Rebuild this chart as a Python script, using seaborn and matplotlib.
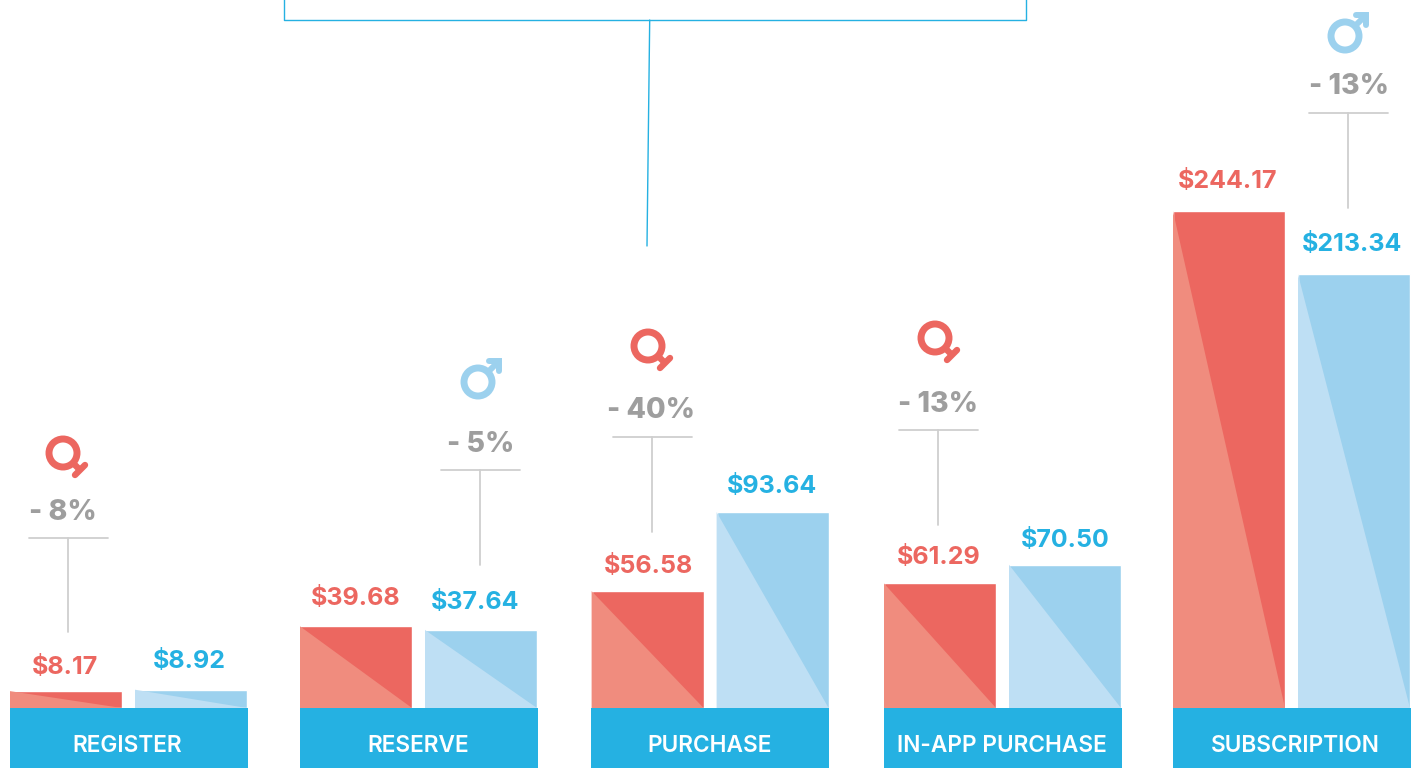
import matplotlib
matplotlib.use('Agg')
import matplotlib.pyplot as plt
from matplotlib.patches import Circle, Rectangle
import pandas as pd
import seaborn as sns

# data
categories = ['REGISTER', 'RESERVE', 'PURCHASE', 'IN-APP PURCHASE', 'SUBSCRIPTION']
female_spend = [8.17, 39.68, 56.58, 61.29, 244.17]
male_spend = [8.92, 37.64, 93.64, 70.50, 213.34]
# drawn bar heights on the common scale (the source bars do not quite follow their labels)
female_bar = [8.3, 40.2, 57.5, 61.3, 244.5]
male_bar = [9.0, 38.4, 96.4, 70.5, 213.4]
gaps = ['- 8%', '- 5%', '- 40%', '- 13%', '- 13%']
gap_gender = ['f', 'm', 'f', 'f', 'm']

# layout in pixels of the 1419x768 picture
W, H = 1419, 768
BASE_Y = 708
PX_PER_DOLLAR = 2.032
group_left = [10, 300, 591.6, 884, 1173]
band_left = [10, 300, 591, 884, 1173]
BAR_W = 112
BAR_STEP = 125
BAND_W = 238
female_lbl = [(-1, 665), (0, 596), (1, 564), (-1, 555), (-1, 179)]
male_lbl = [(-2, 659), (-6, 600), (-1, 484), (0, 538), (-2, 242)]
label_dx = [-2, -1, 0, -1, 3]
callout_x = [68, 480, 652, 938, 1348]
callout_top = [538, 470, 437, 430, 113]
callout_bottom = [632, 565, 532, 525, 208]
gap_text_x = [63, 481, 651, 938, 1349]
icon_xy = [(63, 453), (478, 382), (648, 346), (935, 338), (1345, 36)]

RED, RED_LIGHT = '#EC6760', '#F08C7E'
BLUE, BLUE_LIGHT = '#9CD1EE', '#BEDFF4'
BAND = '#25B1E2'
GREY = '#9E9E9E'
LINE_GREY = '#CFCFCF'
FONT = 'Inter'

sns.set_theme(style='white')
plt.rcParams['font.family'] = [FONT, 'DejaVu Sans']

rows = []
for i, cat in enumerate(categories):
    rows.append({'pos': group_left[i] + BAR_W / 2, 'spend': female_bar[i], 'gender': 'female'})
    rows.append({'pos': group_left[i] + BAR_STEP + BAR_W / 2, 'spend': male_bar[i], 'gender': 'male'})
df = pd.DataFrame(rows)

fig = plt.figure(figsize=(W / 100, H / 100), dpi=100, facecolor='white')
ax = fig.add_axes([0, 0, 1, 1])
sns.barplot(data=df, x='pos', y='spend', hue='gender', native_scale=True, dodge=False,
            width=BAR_W / BAR_STEP, palette={'female': RED, 'male': BLUE}, saturation=1,
            legend=False, errorbar=None, ax=ax)
ax.set_xlim(0, W)
ax.set_ylim(-(H - BASE_Y) / PX_PER_DOLLAR, BASE_Y / PX_PER_DOLLAR)
ax.axis('off')

# lighter triangle in the lower left corner of each bar
for bar in ax.patches:
    x0, w, h = bar.get_x(), bar.get_width(), bar.get_height()
    col = RED_LIGHT if bar.get_facecolor()[0] > 0.8 else BLUE_LIGHT
    ax.fill([x0, x0, x0 + w], [0, h, 0], color=col, lw=0, zorder=bar.get_zorder() + 0.1)

# overlay in pixel coordinates for the furniture
top = fig.add_axes([0, 0, 1, 1], facecolor='none')
top.set_xlim(0, W)
top.set_ylim(H, 0)
top.axis('off')


def draw_icon(cx, cy, kind):
    col = RED if kind == 'f' else BLUE
    top.add_patch(Circle((cx, cy), 14, fill=False, ec=col, lw=5))
    if kind == 'f':
        top.plot([cx + 10, cx + 18], [cy + 10, cy + 18], color=col, lw=4.6, solid_capstyle='butt')
        top.plot([cx + 12, cx + 22], [cy + 22, cy + 12], color=col, lw=4.6, solid_capstyle='round')
    else:
        top.plot([cx + 10, cx + 21], [cy - 10, cy - 21], color=col, lw=4.3, solid_capstyle='butt')
        top.plot([cx + 11, cx + 21, cx + 21], [cy - 21, cy - 21, cy - 11], color=col, lw=4.3,
                 solid_capstyle='round', solid_joinstyle='miter')


for i, cat in enumerate(categories):
    left = band_left[i]
    top.add_patch(Rectangle((left, BASE_Y), BAND_W, H - BASE_Y, color=BAND, lw=0))
    top.text(left + BAND_W / 2 + label_dx[i], 744, cat, color='white',
             fontsize=16.3, fontweight='semibold', ha='center', va='center_baseline')

    fx = group_left[i] + BAR_W / 2 + female_lbl[i][0]
    mx = group_left[i] + BAR_STEP + BAR_W / 2 + male_lbl[i][0]
    top.text(fx, female_lbl[i][1], f'${female_spend[i]:.2f}', color=RED, fontsize=18,
             fontweight='bold', ha='center', va='center_baseline')
    top.text(mx, male_lbl[i][1], f'${male_spend[i]:.2f}', color=BAND, fontsize=18,
             fontweight='bold', ha='center', va='center_baseline')

    cx = callout_x[i]
    top.plot([cx - 39.5, cx + 39.5], [callout_top[i]] * 2, color=LINE_GREY, lw=1.3)
    top.plot([cx, cx], [callout_top[i], callout_bottom[i]], color=LINE_GREY, lw=1.3)
    top.text(gap_text_x[i], callout_top[i] - 29, gaps[i], color=GREY, fontsize=20.5,
             fontweight=800, ha='center', va='center_baseline')
    draw_icon(icon_xy[i][0], icon_xy[i][1], gap_gender[i])

# cut off callout box at the top of the picture
top.plot([284, 284, 1025.5, 1025.5], [-5, 20, 20, -5], color=BAND, lw=1)
top.plot([649.7, 647], [20, 246], color=BAND, lw=1)
top.set_xlim(0, W)
top.set_ylim(H, 0)

fig.savefig('out.png', dpi=100)
